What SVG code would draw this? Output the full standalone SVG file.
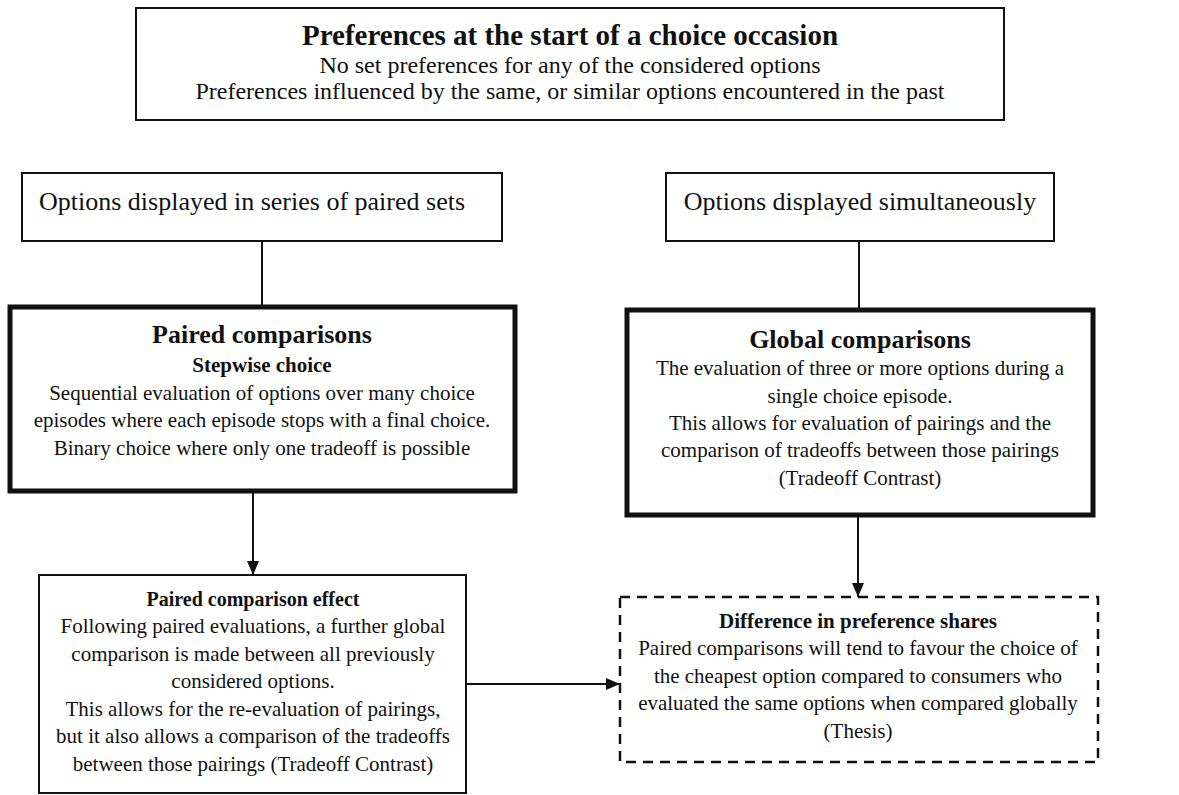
<svg xmlns="http://www.w3.org/2000/svg" width="1179" height="795" viewBox="0 0 1179 795">
<defs>
<style>
text{font-family:"Liberation Serif","Times New Roman",serif;fill:#111;text-anchor:middle}
.b{font-weight:bold}
.box{fill:#fff;stroke:#111;stroke-width:2}
.thick{fill:#fff;stroke:#111;stroke-width:5}
.dash{fill:#fff;stroke:#111;stroke-width:2.5;stroke-dasharray:10 7}
.conn{stroke:#111;stroke-width:2;fill:none}
.t21{font-size:21px}
.t26{font-size:26px}
</style>
<marker id="ah" viewBox="0 0 14 12" refX="14" refY="6" markerWidth="14" markerHeight="12" markerUnits="userSpaceOnUse" orient="auto">
<path d="M0,0 L14,6 L0,12 Z" fill="#111"/>
</marker>
</defs>
<g id="connectors">
<line class="conn" x1="262" y1="241" x2="262" y2="307"/>
<line class="conn" x1="859" y1="241" x2="859" y2="310"/>
<line class="conn" x1="253" y1="492" x2="253" y2="575" marker-end="url(#ah)"/>
<line class="conn" x1="858" y1="515" x2="858" y2="597" marker-end="url(#ah)"/>
<line class="conn" x1="466" y1="684" x2="620" y2="684" marker-end="url(#ah)"/>
</g>
<g id="node-start">
<rect class="box" x="136" y="8" width="868" height="112"/>
<text class="b" x="570" y="45" font-size="29">Preferences at the start of a choice occasion</text>
<text x="570" y="73" font-size="24">No set preferences for any of the considered options</text>
<text x="570" y="99" font-size="24">Preferences influenced by the same, or similar options encountered in the past</text>
</g>
<g id="node-paired-sets">
<rect class="box" x="22" y="173" width="480" height="68"/>
<text class="t26" x="39" y="210" style="text-anchor:start">Options displayed in series of paired sets</text>
</g>
<g id="node-simultaneous">
<rect class="box" x="666" y="173" width="388" height="68"/>
<text class="t26" x="860" y="210">Options displayed simultaneously</text>
</g>
<g id="node-paired-comparisons">
<rect class="thick" x="10" y="307" width="505" height="184"/>
<text class="b t26" x="262" y="343">Paired comparisons</text>
<text class="b t21" x="262" y="372">Stepwise choice</text>
<text class="t21" x="262" y="400">Sequential evaluation of options over many choice</text>
<text class="t21" x="262" y="427">episodes where each episode stops with a final choice.</text>
<text class="t21" x="262" y="455">Binary choice where only one tradeoff is possible</text>
</g>
<g id="node-global-comparisons">
<rect class="thick" x="627" y="310" width="466" height="205"/>
<text class="b t26" x="860" y="348">Global comparisons</text>
<text class="t21" x="860" y="375">The evaluation of three or more options during a</text>
<text class="t21" x="860" y="403">single choice episode.</text>
<text class="t21" x="860" y="430">This allows for evaluation of pairings and the</text>
<text class="t21" x="860" y="457">comparison of tradeoffs between those pairings</text>
<text class="t21" x="860" y="485">(Tradeoff Contrast)</text>
</g>
<g id="node-effect">
<rect class="box" x="39" y="575" width="427" height="218"/>
<text class="b" x="253" y="606" font-size="20">Paired comparison effect</text>
<text class="t21" x="253" y="633">Following paired evaluations, a further global</text>
<text class="t21" x="253" y="661">comparison is made between all previously</text>
<text class="t21" x="253" y="688">considered options.</text>
<text class="t21" x="253" y="716">This allows for the re-evaluation of pairings,</text>
<text class="t21" x="253" y="743">but it also allows a comparison of the tradeoffs</text>
<text class="t21" x="253" y="771">between those pairings (Tradeoff Contrast)</text>
</g>
<g id="node-difference">
<rect class="dash" x="620" y="597" width="478" height="165"/>
<text class="b t21" x="858" y="628">Difference in preference shares</text>
<text class="t21" x="858" y="655">Paired comparisons will tend to favour the choice of</text>
<text class="t21" x="858" y="683">the cheapest option compared to consumers who</text>
<text class="t21" x="858" y="710">evaluated the same options when compared globally</text>
<text class="t21" x="858" y="738">(Thesis)</text>
</g>
</svg>
